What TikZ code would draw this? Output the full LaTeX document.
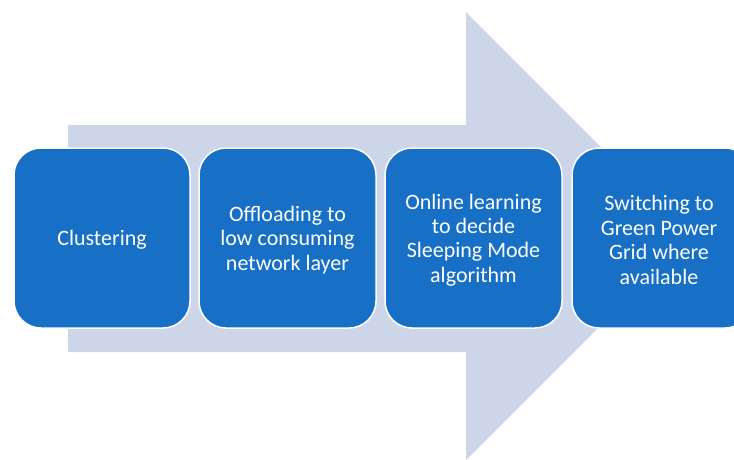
\documentclass[tikz,border=0pt]{standalone}
\usepackage{fontspec}
\setmainfont{Carlito}
\begin{document}
\begin{tikzpicture}[x=1pt,y=-1pt,
  stepbox/.style={fill=boxblue,draw=white,line width=1.5pt,rounded corners=27pt},
  lbl/.style={text=white,align=center,font=\fontsize{22}{24.4}\selectfont}]
\definecolor{boxblue}{HTML}{1770C6}
\definecolor{arrowfill}{HTML}{CDD5E9}
\useasboundingbox (0,0) rectangle (734,459);
\clip (0,0) rectangle (734,459);
\fill[arrowfill] (68,125) -- (466,125) -- (466,12) -- (690,236) -- (466,460) -- (466,352) -- (68,352) -- cycle;
\draw[stepbox] (14,148) rectangle (190,328);
\draw[stepbox] (199,148) rectangle (376,328);
\draw[stepbox] (385,148) rectangle (562,328);
\draw[stepbox] (572,148) rectangle (752,328);
\node[lbl] (c1) at (102,240) {Clustering};
\node[lbl] (c2) at (287.5,240) {Offloading to\\low consuming\\network layer};
\node[lbl] (c3) at (473.5,240) {Online learning\\to decide\\Sleeping Mode\\algorithm};
\node[lbl] (c4) at (659,240) {Switching to\\Green Power\\Grid where\\available};
\end{tikzpicture}
\end{document}
